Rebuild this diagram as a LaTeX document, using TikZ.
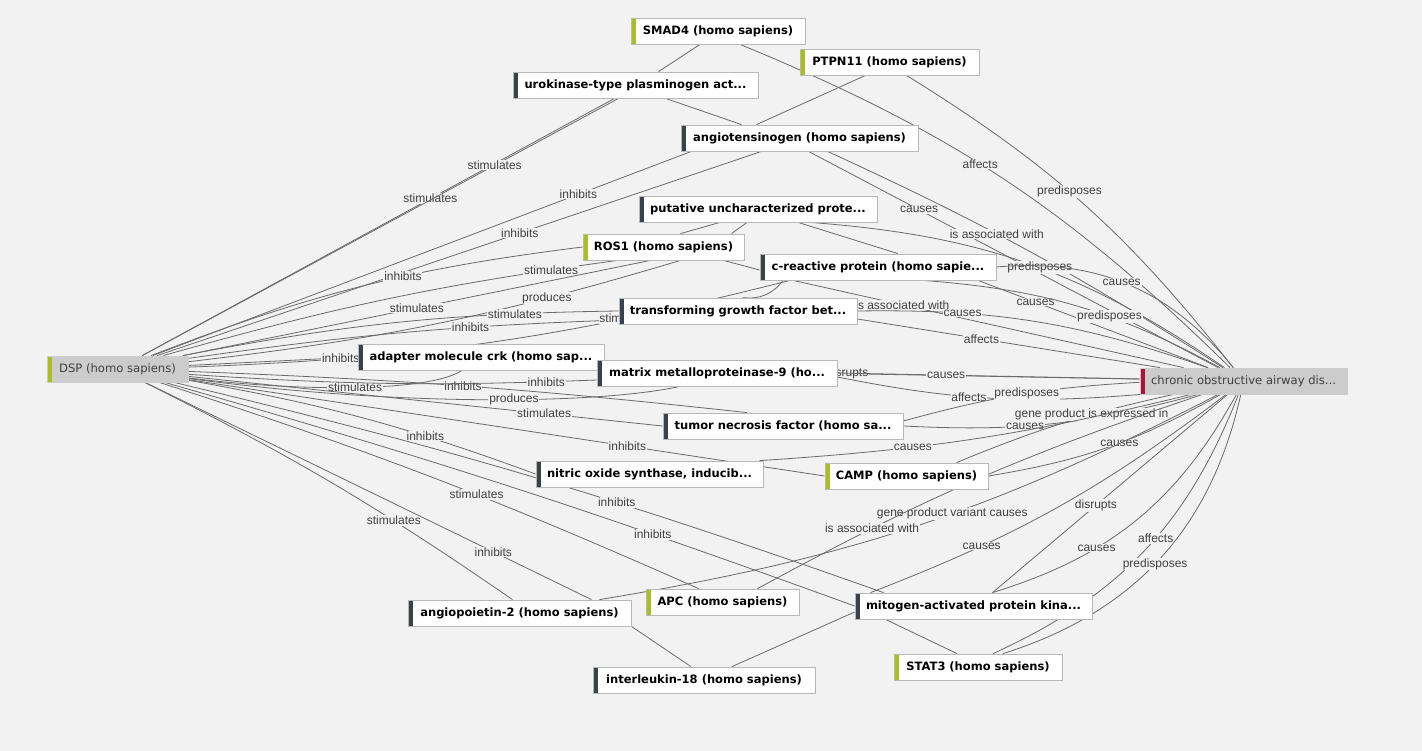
\documentclass[tikz,border=0pt]{standalone}
\usepackage{fontspec}
\newfontfamily\verd{DejaVu Sans}
\newfontfamily\helv{Liberation Sans}
\definecolor{bgc}{HTML}{F2F2F2}
\definecolor{linec}{HTML}{6A6A6A}
\definecolor{boxline}{HTML}{B8B8B8}
\definecolor{gene}{HTML}{A9C01C}
\definecolor{chem}{HTML}{3A4149}
\definecolor{dis}{HTML}{B0103A}
\definecolor{hubfill}{HTML}{CCCCCC}
\definecolor{lbltext}{HTML}{404040}
\pgfdeclarelayer{bg}
\pgfdeclarelayer{edges}
\pgfsetlayers{bg,edges,main}
\begin{document}
\begin{tikzpicture}[x=1pt, y=1pt,
  ent/.style={draw=boxline, line width=0.8pt, fill=white, minimum height=26pt, inner sep=0pt,
    font=\verd\bfseries\fontsize{11.5}{13}\selectfont,
    path picture={\fill[#1] (path picture bounding box.north west) rectangle ([xshift=5pt]path picture bounding box.south west);}},
  hub/.style={ent=#1, draw=hubfill, fill=hubfill, text=lbltext, font=\verd\fontsize{11.6}{13}\selectfont},
  rel/.style={draw=linec, line width=0.8pt},
  lbl/.style={fill=bgc, inner sep=0.8pt, text=lbltext, font=\helv\fontsize{12}{14}\selectfont}]
  \useasboundingbox (0,0) rectangle (1422,-751);
  \begin{pgfonlayer}{bg}
    \fill[bgc] (0,0) rectangle (1422,-751);
  \end{pgfonlayer}

  \node[ent=gene, minimum width=174pt] (smad) at (718,-31) {SMAD4 (homo sapiens)};
  \node[ent=gene, minimum width=179pt] (ptpn) at (889.5,-62) {PTPN11 (homo sapiens)};
  \node[ent=chem, minimum width=245pt] (uro) at (635.5,-85) {urokinase-type plasminogen act...};
  \node[ent=chem, minimum width=237pt] (angio) at (799.5,-138) {angiotensinogen (homo sapiens)};
  \node[ent=chem, minimum width=238pt] (put) at (758,-209) {putative uncharacterized prote...};
  \node[ent=gene, minimum width=161pt] (ros) at (663.5,-247) {ROS1 (homo sapiens)};
  \node[ent=chem, minimum width=236pt] (crp) at (878,-267) {c-reactive protein (homo sapie...};
  \node[ent=chem, minimum width=238pt] (tgf) at (738,-311) {transforming growth factor bet...};
  \node[ent=chem, minimum width=246pt] (crk) at (481,-357) {adapter molecule crk (homo sap...};
  \node[ent=chem, minimum width=240pt] (mmp) at (717,-373) {matrix metalloproteinase-9 (ho...};
  \node[ent=chem, minimum width=240pt] (tnf) at (783,-426) {tumor necrosis factor (homo sa...};
  \node[ent=chem, minimum width=227pt] (nos) at (649.5,-474) {nitric oxide synthase, inducib...};
  \node[ent=gene, minimum width=163pt] (camp) at (906.5,-476) {CAMP (homo sapiens)};
  \node[ent=chem, minimum width=223pt] (ang2) at (519.5,-613) {angiopoietin-2 (homo sapiens)};
  \node[ent=gene, minimum width=153pt] (apc) at (722.5,-602) {APC (homo sapiens)};
  \node[ent=chem, minimum width=237pt] (mapk) at (973.5,-606) {mitogen-activated protein kina...};
  \node[ent=chem, minimum width=222pt] (il18) at (704,-680) {interleukin-18 (homo sapiens)};
  \node[ent=gene, minimum width=168pt] (stat3) at (978,-667) {STAT3 (homo sapiens)};
  \node[hub=gene, minimum width=141pt] (dsp) at (117.5,-369) {DSP (homo sapiens)};
  \node[hub=dis, minimum width=207pt] (cop) at (1243.5,-381) {chronic obstructive airway dis...};

  \begin{pgfonlayer}{edges}
  % DSP
  \draw[rel] (dsp) -- node[lbl,pos=.61]{stimulates} ([xshift=-21pt]uro.south);
  \draw[rel] (dsp) -- node[lbl,pos=.74]{stimulates} ([xshift=-17pt]uro.south);
  \draw[rel] (dsp) -- node[lbl,pos=.79]{inhibits} ([xshift=-108pt]angio.south);
  \draw[rel] (dsp) -- node[lbl,pos=.60]{inhibits} ([xshift=-38pt]angio.south);
  \draw[rel] (dsp) to[bend left=7] node[lbl,pos=.6]{inhibits} (ros.west);
  \draw[rel] (dsp) to[bend left=4] node[lbl,pos=.87]{stimulates} ([xshift=-46pt]ros.south);
  \draw[rel] (dsp) -- node[lbl,pos=.5]{stimulates} ([xshift=-13pt]ros.south);
  \draw[rel] (dsp) to[bend right=5] node[lbl,pos=.74]{produces} ([xshift=17pt]ros.south);
  \draw[rel] (dsp) to[bend left=5] node[lbl,pos=.78]{stimulates} (tgf.west);
  \draw[rel] (dsp) to[bend left=3] node[lbl,pos=.67]{inhibits} ([yshift=-9pt]tgf.west);
  \draw[rel] (dsp) to[bend right=6] node[lbl,pos=.74]{stimulates} ([xshift=-88pt]crp.south);
  \draw[rel] (dsp) -- node[lbl,pos=.9]{inhibits} (crk.west);
  \draw[rel] (dsp) .. controls (300,-392) and (430,-392) .. node[lbl,pos=.5]{stimulates} ([xshift=-19pt]crk.south);
  \draw[rel] (dsp) to[bend left=2] node[lbl,pos=.49]{inhibits} ([xshift=-36pt]tnf.north);
  \draw[rel] (dsp) to[bend right=3] node[lbl,pos=.89]{inhibits} ([yshift=-7pt]mmp.west);
  \draw[rel] (dsp) .. controls (400,-407) and (600,-404) .. node[lbl,pos=.56]{produces} ([xshift=-37pt]mmp.south);
  \draw[rel] (dsp) -- node[lbl,pos=.75]{stimulates} (tnf.west);
  \draw[rel] (dsp) -- node[lbl,pos=.69]{inhibits} (camp.west);
  \draw[rel] (dsp) to[bend left=5] node[lbl,pos=.69]{inhibits} (nos.west);
  \draw[rel] (dsp) to[bend left=3] node[lbl,pos=.63]{inhibits} ([xshift=-90pt]mapk.north);
  \draw[rel] (dsp) to[bend left=2] node[lbl,pos=.72]{inhibits} (mapk.west);
  \draw[rel] (dsp) to[bend left=3] node[lbl,pos=.59]{stimulates} ([xshift=-24pt]apc.north);
  \draw[rel] (dsp) to[bend left=4] node[lbl,pos=.68]{stimulates} ([xshift=-7pt]ang2.north);
  \draw[rel] (dsp) -- node[lbl,pos=.78]{inhibits} ([xshift=72pt]ang2.north);
  % between entities
  \draw[rel] ([xshift=-18pt]smad.south) -- ([xshift=23pt]uro.north);
  \draw[rel] ([xshift=30pt]uro.south) -- ([xshift=-58pt]angio.north);
  \draw[rel] ([xshift=-24pt]ptpn.south) -- ([xshift=-43pt]angio.north);
  \draw[rel] ([xshift=-38pt]put.south) -- ([xshift=17pt]ros.north);
  \draw[rel] ([xshift=-11pt]put.south) -- ([xshift=68pt]ros.north);
  \draw[rel] ([xshift=40pt]put.south) -- ([xshift=20pt]crp.north);
  \draw[rel] ([xshift=60pt]ros.south) -- ([yshift=-3pt]crp.west);
  \draw[rel] ([xshift=-95pt]crp.south) to[bend left=30] ([xshift=5pt]tgf.north);
  \draw[rel] (ang2.south east) -- ([xshift=-13pt]il18.north);
  \draw[rel] ([yshift=-6pt]mapk.west) -- ([xshift=28pt]il18.north);
  \draw[rel] ([xshift=-88pt]mapk.south) -- ([xshift=-21pt]stat3.north);
  % to the disease
  \draw[rel] ([xshift=22pt]smad.south) to[bend left=11] node[lbl,pos=.45]{affects} (cop);
  \draw[rel] ([xshift=17pt]ptpn.south) to[bend left=10] node[lbl,pos=.45]{predisposes} (cop);
  \draw[rel] ([xshift=9pt]angio.south) -- node[lbl,pos=.27]{causes} (cop);
  \draw[rel] ([xshift=28pt]angio.south) to[bend left=4] node[lbl,pos=.41]{is associated with} (cop);
  \draw[rel] ([xshift=52pt]put.south) to[bend left=15] node[lbl,pos=.53]{predisposes} (cop);
  \draw[rel] (crp.east) to[bend left=28] node[lbl,pos=.47]{causes} (cop);
  \draw[rel] ([xshift=100pt]crp.south) -- node[lbl,pos=.25]{causes} (cop);
  \draw[rel] ([xshift=45pt]crp.south) to[bend left=12] node[lbl,pos=.62]{predisposes} (cop);
  \draw[rel] ([xshift=-85pt]crp.south) -- node[lbl,pos=.28]{is associated with} (cop);
  \draw[rel] (tgf.east) to[bend left=10] node[lbl,pos=.28]{causes} (cop);
  \draw[rel] ([yshift=-8pt]tgf.east) -- node[lbl,pos=.41]{affects} (cop);
  \draw[rel] ([xshift=-30pt]mmp.east) -- node[lbl,pos=.12]{disrupts} (cop);
  \draw[rel] (mmp.east) -- node[lbl,pos=.36]{causes} (cop);
  \draw[rel] ([yshift=-4pt]mmp.east) to[bend right=8] node[lbl,pos=.43]{affects} (cop);
  \draw[rel] ([yshift=5pt]tnf.east) to[bend left=6] node[lbl,pos=.53]{predisposes} (cop);
  \draw[rel] (tnf.east) to[bend right=9] node[lbl,pos=.4]{causes} (cop);
  \draw[rel] ([xshift=50pt]camp.north) to[bend left=5] node[lbl,pos=.64]{gene product is expressed in} (cop);
  \draw[rel] (camp.east) to[bend right=10] node[lbl,pos=.55]{causes} (cop);
  \draw[rel] ([xshift=110pt]nos.north) to[bend right=5] node[lbl,pos=.34]{causes} (cop);
  \draw[rel] ([xshift=80pt]ang2.north) to[bend right=9] node[lbl,pos=.56]{gene product variant causes} (cop);
  \draw[rel] ([xshift=35pt]apc.north) to[bend left=5] node[lbl,pos=.25]{is associated with} (cop);
  \draw[rel] ([xshift=-103pt]mapk.north) to[bend right=8] node[lbl,pos=.28]{causes} (cop);
  \draw[rel] ([xshift=19pt]mapk.north) -- node[lbl,pos=.44]{disrupts} (cop);
  \draw[rel] ([xshift=19pt]mapk.north) to[bend right=22] node[lbl,pos=.34]{causes} (cop);
  \draw[rel] ([xshift=15pt]stat3.north) to[bend right=22] node[lbl,pos=.55]{affects} (cop);
  \draw[rel] ([xshift=25pt]stat3.north) to[bend right=30] node[lbl,pos=.48]{predisposes} (cop);
  \end{pgfonlayer}
\end{tikzpicture}
\end{document}
